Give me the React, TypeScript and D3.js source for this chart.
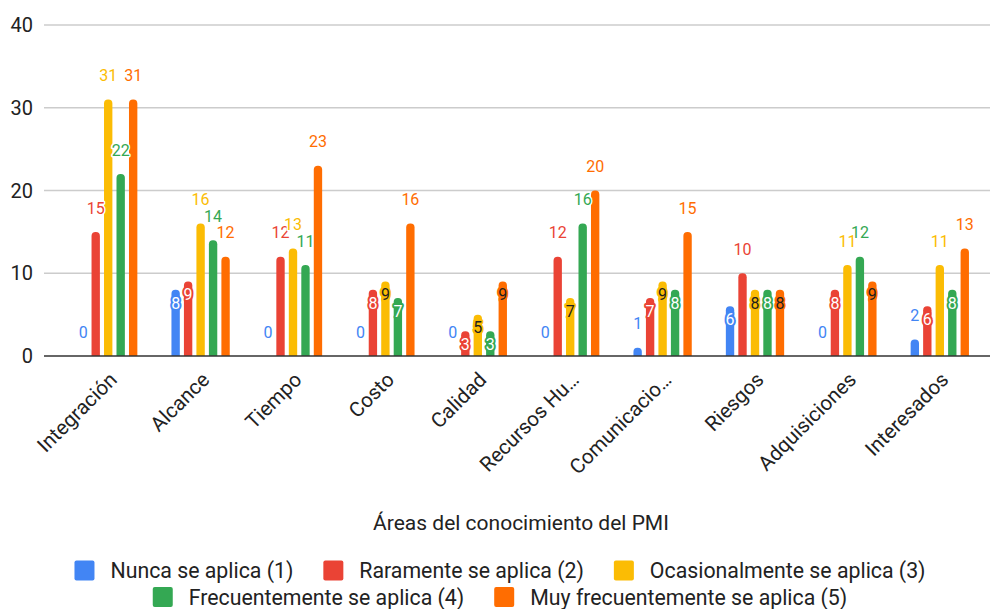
import React from "react";
import * as d3 from "d3";

// Knowledge areas (as labelled on the axis) and the five frequency series
const areaLabels = [
  "Integración",
  "Alcance",
  "Tiempo",
  "Costo",
  "Calidad",
  "Recursos Hu…",
  "Comunicacio…",
  "Riesgos",
  "Adquisiciones",
  "Interesados",
];

const seriesNames = [
  "Nunca se aplica (1)",
  "Raramente se aplica (2)",
  "Ocasionalmente se aplica (3)",
  "Frecuentemente se aplica (4)",
  "Muy frecuentemente se aplica (5)",
];

const nunca = [0, 8, 0, 0, 0, 0, 1, 6, 0, 2];
const raramente = [15, 9, 12, 8, 3, 12, 7, 10, 8, 6];
const ocasionalmente = [31, 16, 13, 9, 5, 7, 9, 8, 11, 11];
const frecuentemente = [22, 14, 11, 7, 3, 16, 8, 8, 12, 8];
const muyFrecuentemente = [31, 12, 23, 16, 9, 20, 15, 8, 9, 13];

const seriesValues = [nunca, raramente, ocasionalmente, frecuentemente, muyFrecuentemente];

const yTicks = [0, 10, 20, 30, 40];
const axisTitle = "Áreas del conocimiento del PMI";

const colors = ["#4285F4", "#EA4335", "#FBBC04", "#34A853", "#FF6D01"];
const insideText = ["#ffffff", "#ffffff", "#1f1f1f", "#ffffff", "#1f1f1f"];

const W = 990;
const H = 609;
const FONT = "Roboto, 'Liberation Sans', Arial, sans-serif";

function measure(text: string, size: number): number {
  const c = document.createElement("canvas").getContext("2d");
  if (!c) return text.length * size * 0.5;
  c.font = `${size}px ${FONT}`;
  return c.measureText(text).width;
}

function topRoundedBar(x: number, y: number, w: number, h: number, r: number): string {
  const rr = Math.min(r, w / 2, h);
  return `M${x},${y + h}V${y + rr}A${rr},${rr} 0 0 1 ${x + rr},${y}H${x + w - rr}A${rr},${rr} 0 0 1 ${x + w},${y + rr}V${y + h}Z`;
}

export default function App() {
  const plotLeft = 44;
  const plotRight = 990;

  const x0 = d3
    .scaleBand<number>()
    .domain(d3.range(areaLabels.length))
    .range([62, 986])
    .paddingInner(0.369)
    .paddingOuter(0.1845);

  const x1 = d3
    .scaleBand<number>()
    .domain(d3.range(seriesNames.length))
    .range([0, x0.bandwidth()])
    .paddingInner(0.33);

  const y = d3.scaleLinear().domain([0, 40]).range([356, 25]);

  const labelSize = 16;
  const legendSize = 21.3;

  // Legend rows, centred
  const legendRows = [
    [0, 1, 2],
    [3, 4],
  ];
  const swatch = 20;
  const swatchGap = 16;
  const itemGap = 30;
  const legendCenter = 500;
  const rowY = [570.5, 597];

  const labels: React.ReactNode[] = [];
  seriesValues.forEach((vals, s) => {
    vals.forEach((v, i) => {
      const cx = (x0(i) as number) + (x1(s) as number) + x1.bandwidth() / 2;
      const top = y(v);
      const barH = y(0) - top;
      const txt = String(v);
      const inside = txt.length === 1 && barH >= 20;
      if (inside) {
        labels.push(
          <text
            key={`l${s}-${i}`}
            x={cx}
            y={top + 13}
            dy="0.36em"
            textAnchor="middle"
            fontSize={labelSize}
            fontFamily={FONT}
            fill={insideText[s]}
            stroke={colors[s]}
            strokeWidth={4}
            strokeLinejoin="round"
            paintOrder="stroke"
          >
            {txt}
          </text>
        );
      } else {
        labels.push(
          <text
            key={`l${s}-${i}`}
            x={cx}
            y={top - 24}
            dy="0.36em"
            textAnchor="middle"
            fontSize={labelSize}
            fontFamily={FONT}
            fill={colors[s]}
            stroke="#ffffff"
            strokeWidth={3}
            strokeLinejoin="round"
            paintOrder="stroke"
          >
            {txt}
          </text>
        );
      }
    });
  });

  return (
    <svg
      width={W}
      height={H}
      viewBox={`0 0 ${W} ${H}`}
      style={{ position: "absolute", left: 0, top: 0, background: "#ffffff" }}
    >
      <rect width={W} height={H} fill="#ffffff" />

      {/* gridlines and y tick labels */}
      {yTicks.map((t) => (
        <g key={`g${t}`}>
          {t !== 0 && (
            <line x1={plotLeft} x2={plotRight} y1={y(t)} y2={y(t)} stroke="#cccccc" strokeWidth={1.4} />
          )}
          <text
            x={33}
            y={y(t)}
            dy="0.36em"
            textAnchor="end"
            fontSize={20}
            fontFamily={FONT}
            fill="#222222"
          >
            {t}
          </text>
        </g>
      ))}

      {/* bars */}
      {seriesValues.map((vals, s) =>
        vals.map((v, i) => {
          if (v <= 0) return null;
          const bx = (x0(i) as number) + (x1(s) as number);
          const top = y(v);
          return (
            <path
              key={`b${s}-${i}`}
              d={topRoundedBar(bx, top, x1.bandwidth(), y(0) - top, 4)}
              fill={colors[s]}
            />
          );
        })
      )}

      {/* baseline */}
      <line x1={plotLeft} x2={plotRight} y1={y(0)} y2={y(0)} stroke="#333333" strokeWidth={1.6} />

      {/* value labels */}
      {labels}

      {/* category labels */}
      {areaLabels.map((name, i) => {
        const cx = (x0(i) as number) + x0.bandwidth() / 2 + 10;
        const cy = 381;
        return (
          <text
            key={`c${i}`}
            transform={`translate(${cx},${cy}) rotate(-45)`}
            textAnchor="end"
            fontSize={20.5}
            fontFamily={FONT}
            fill="#222222"
          >
            {name}
          </text>
        );
      })}

      {/* axis title */}
      <text x={521} y={530} textAnchor="middle" fontSize={21} fontFamily={FONT} fill="#222222">
        {axisTitle}
      </text>

      {/* legend */}
      {legendRows.map((row, r) => {
        const widths = row.map((s) => swatch + swatchGap + measure(seriesNames[s], legendSize));
        const total = d3.sum(widths) + itemGap * (row.length - 1);
        let cursor = legendCenter - total / 2;
        return (
          <g key={`row${r}`}>
            {row.map((s, k) => {
              const x = cursor;
              cursor += widths[k] + itemGap;
              return (
                <g key={`li${s}`}>
                  <rect
                    x={x}
                    y={rowY[r] - swatch / 2}
                    width={swatch}
                    height={swatch}
                    rx={2}
                    fill={colors[s]}
                  />
                  <text
                    x={x + swatch + swatchGap}
                    y={rowY[r]}
                    dy="0.36em"
                    fontSize={legendSize}
                    fontFamily={FONT}
                    fill="#222222"
                  >
                    {seriesNames[s]}
                  </text>
                </g>
              );
            })}
          </g>
        );
      })}
    </svg>
  );
}
